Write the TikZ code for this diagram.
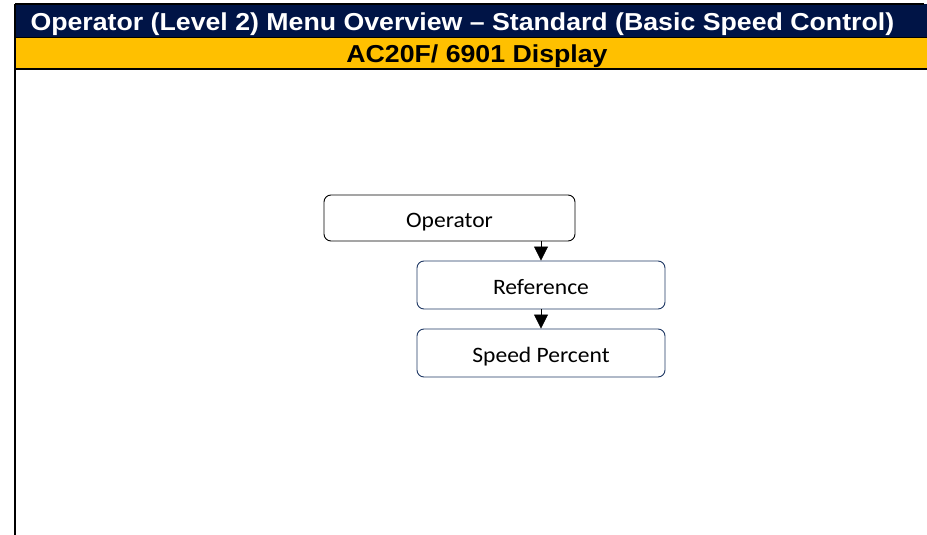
\documentclass[tikz,border=0pt]{standalone}
\usepackage{fontspec}
\setmainfont[FakeStretch=1.07]{Carlito}
\newfontfamily\headfont[FakeStretch=1.09]{Liberation Sans}
\usetikzlibrary{arrows.meta}
\definecolor{barnavy}{RGB}{0,20,70}
\definecolor{baryellow}{RGB}{255,192,0}
\definecolor{boxnavy}{RGB}{31,56,100}
\tikzset{
    menubox/.style={draw=boxnavy, rounded corners=7pt, minimum width=248pt, minimum height=48pt, text height=20pt, text depth=1pt, font=\fontsize{22pt}{26pt}\selectfont, line width=0.9pt},
    menuarrow/.style={-{Triangle[length=14pt, width=14pt]}, line width=0.8pt}
}

\begin{document}
\begin{tikzpicture}[x=1pt, y=-1pt]
    \useasboundingbox (0, 0) rectangle (927, 535);
    % header bars
    \fill[barnavy] (15, 4) rectangle (927, 37);
    \fill[baryellow] (15, 37) rectangle (927, 68);
    \draw[line width=0.6pt] (15, 37) -- (927, 37);
    \draw[line width=2pt] (15, 4) -- (924, 4);
    \draw[line width=2pt] (15, 69) -- (927, 69);
    \draw[line width=2pt] (15, 4) -- (15, 535);
    \node[anchor=west, text=white, font=\headfont\bfseries\fontsize{24.5pt}{28pt}\selectfont] (title) at (27, 24) {Operator (Level 2) Menu Overview – Standard (Basic Speed Control)};
    \node[font=\headfont\bfseries\fontsize{24.5pt}{28pt}\selectfont] (subtitle) at (477, 56) {AC20F/ 6901 Display};
    % menu tree
    \node[menubox, draw=black, minimum width=251pt, minimum height=46pt] (oper) at (449.5, 218) {Operator};
    \node[menubox] (ref) at (541, 285) {Reference};
    \node[menubox] (speed) at (541, 353) {Speed Percent};
    \draw[menuarrow] (oper.south -| ref.north) -- (ref.north);
    \draw[menuarrow] (ref) -- (speed);
\end{tikzpicture}
\end{document}
